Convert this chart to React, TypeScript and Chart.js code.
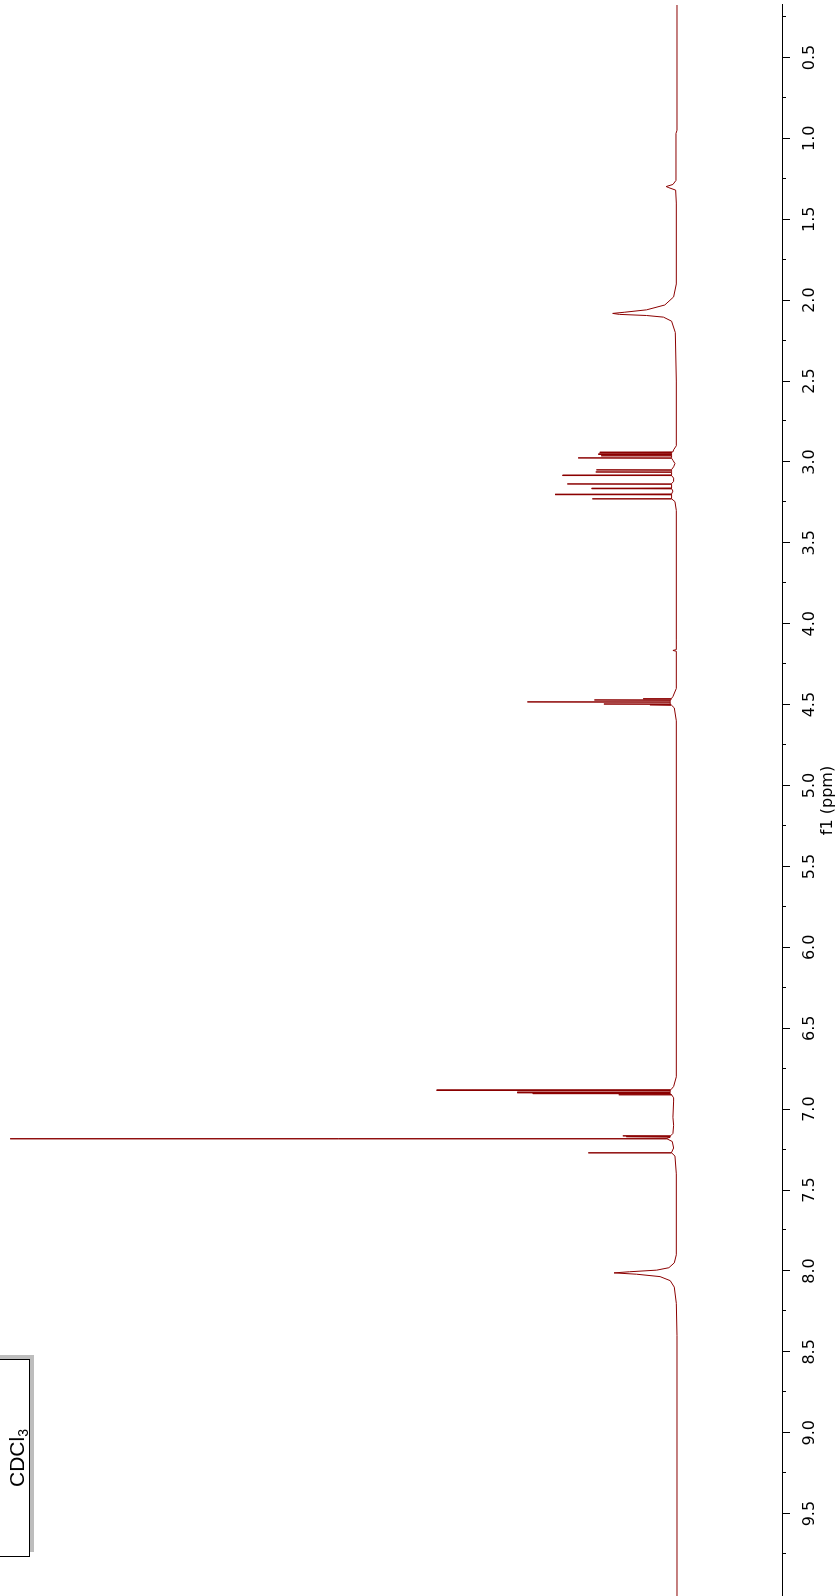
import React, { useEffect, useRef } from 'react';
import { Chart, registerables } from 'chart.js';

Chart.register(...registerables);

// Chemical shift (ppm) and relative intensity (% of tallest usable height)
const shiftPpm: number[] = [
  0.176, 0.95, 0.97, 1.26, 1.285, 1.298, 1.305, 1.32, 1.4,
  1.9, 1.98, 2.03, 2.06, 2.075, 2.082, 2.088, 2.095, 2.105, 2.13, 2.2, 2.5,
  2.9, 2.925,
  2.938, 2.94, 2.942, 2.949, 2.951, 2.953, 2.959, 2.961, 2.963, 2.973, 2.975, 2.977,
  2.99, 3.01, 3.03,
  3.047, 3.049, 3.051, 3.06, 3.062, 3.064, 3.08, 3.082, 3.084,
  3.1, 3.12,
  3.134, 3.136, 3.138, 3.161, 3.163, 3.165, 3.18,
  3.198, 3.2, 3.202, 3.225, 3.227, 3.229, 3.245, 3.3,
  4.1, 4.16, 4.165, 4.17, 4.4, 4.45,
  4.461, 4.463, 4.465, 4.469, 4.471, 4.473, 4.481, 4.483, 4.485,
  4.494, 4.496, 4.498, 4.5, 4.502, 4.504, 4.52, 4.6,
  6.8, 6.86,
  6.88, 6.882, 6.884, 6.893, 6.895, 6.897, 6.9, 6.902, 6.904, 6.908, 6.91, 6.912,
  6.93, 6.95, 7.05, 7.1, 7.15,
  7.163, 7.165, 7.167, 7.169, 7.171, 7.173,
  7.18, 7.182, 7.184, 7.2, 7.24,
  7.267, 7.269, 7.271, 7.29, 7.4,
  7.9, 7.95, 7.98, 7.995, 8.005, 8.012, 8.02, 8.035, 8.06, 8.1, 8.2, 8.4,
  10.009,
];

const intensityPct: number[] = [
  0, 0, 0.15, 0.15, 0.6, 1.6, 1.2, 0.2, 0.1,
  0.1, 0.5, 1.8, 4.5, 7.8, 9.5, 8.5, 4.5, 2.0, 0.8, 0.25, 0.1,
  0.1, 0.5,
  0.6, 11.4, 0.8, 0.8, 11.6, 0.8, 0.8, 11.2, 0.8, 0.8, 14.6, 0.8,
  0.6, 0.3, 0.5,
  0.8, 11.9, 0.8, 0.8, 12.0, 0.8, 0.8, 16.9, 0.8,
  0.5, 0.5,
  0.8, 16.2, 0.8, 0.8, 12.6, 0.8, 0.6,
  0.8, 18.0, 0.8, 0.8, 12.5, 0.8, 0.3, 0.1,
  0.1, 0.1, 0.6, 0.1, 0.1, 0.6,
  0.8, 5.0, 0.9, 0.9, 12.2, 1.0, 1.0, 22.1, 1.0,
  1.0, 10.8, 0.9, 0.9, 4.0, 0.8, 0.4, 0.1,
  0.1, 0.5,
  0.9, 35.5, 1.0, 1.0, 23.6, 1.0, 1.0, 21.3, 1.0, 1.0, 8.6, 0.8,
  0.5, 0.5, 0.6, 0.5, 0.6,
  0.9, 8.0, 1.0, 1.0, 7.5, 1.0,
  1.5, 98.5, 1.5, 0.7, 0.5,
  0.8, 13.1, 0.8, 0.3, 0.1,
  0.1, 0.4, 1.2, 3.0, 7.0, 9.3, 6.0, 2.5, 1.0, 0.4, 0.1, 0,
  0,
];

const majorTicks: number[] = [0.5, 1.0, 1.5, 2.0, 2.5, 3.0, 3.5, 4.0, 4.5, 5.0, 5.5, 6.0, 6.5, 7.0, 7.5, 8.0, 8.5, 9.0, 9.5];
const minorTicks: number[] = [0.25, 0.75, 1.25, 1.75, 2.25, 2.75, 3.25, 3.75, 4.25, 4.75, 5.25, 5.75, 6.25, 6.75, 7.25, 7.75, 8.25, 8.75, 9.25, 9.75];

const PPM_MIN = 0.176;
const PPM_MAX = 10.009;
const INT_MIN = -15.51;
const INT_MAX = 100;
const AXIS_TITLE = 'f1 (ppm)';
const SOLVENT_MAIN = 'CDCl';
const SOLVENT_SUB = '3';

const W = 1596;
const H = 838;

export default function App() {
  const ref = useRef<HTMLCanvasElement>(null);

  useEffect(() => {
    const canvas = ref.current;
    if (!canvas) return;
    const points = shiftPpm.map((p, i) => ({ x: p, y: intensityPct[i] }));

    const minorTickPlugin = {
      id: 'minorTicks',
      afterDraw(chart: any) {
        const xs = chart.scales.x;
        const ctx = chart.ctx;
        const y0 = chart.chartArea.bottom;
        ctx.save();
        ctx.strokeStyle = '#000';
        ctx.lineWidth = 1;
        ctx.beginPath();
        for (const v of minorTicks) {
          const px = Math.round(xs.getPixelForValue(v)) + 0.5;
          ctx.moveTo(px, y0);
          ctx.lineTo(px, y0 + 4);
        }
        ctx.stroke();
        ctx.restore();
      },
    };

    const solventBoxPlugin = {
      id: 'solventBox',
      afterDraw(chart: any) {
        const ctx = chart.ctx;
        ctx.save();
        ctx.fillStyle = '#bdbdbd';
        ctx.fillRect(44, -5, 197, 39);
        ctx.fillStyle = '#ffffff';
        ctx.fillRect(39.5, -5, 197, 34.5);
        ctx.strokeStyle = '#000';
        ctx.lineWidth = 1;
        ctx.strokeRect(39.5, -5.5, 197, 35);
        ctx.fillStyle = '#000';
        ctx.textBaseline = 'alphabetic';
        ctx.textAlign = 'left';
        const mainFont = '21px "Liberation Sans", Arial, sans-serif';
        const subFont = '14px "Liberation Sans", Arial, sans-serif';
        ctx.font = mainFont;
        const w1 = ctx.measureText(SOLVENT_MAIN).width;
        ctx.font = subFont;
        const w2 = ctx.measureText(SOLVENT_SUB).width;
        const start = 138 - (w1 + w2) / 2;
        ctx.font = mainFont;
        ctx.fillText(SOLVENT_MAIN, start, 24);
        ctx.font = subFont;
        ctx.fillText(SOLVENT_SUB, start + w1, 28);
        ctx.restore();
      },
    };

    const chart = new Chart(canvas, {
      type: 'line',
      data: {
        datasets: [
          {
            data: points,
            borderColor: '#8b0000',
            borderWidth: 1,
            pointRadius: 0,
            tension: 0,
            fill: false,
          },
        ],
      },
      options: {
        animation: false,
        responsive: false,
        devicePixelRatio: 1,
        layout: { padding: { left: 0, right: 5, top: 0, bottom: 0 } },
        plugins: { legend: { display: false }, tooltip: { enabled: false } },
        scales: {
          x: {
            type: 'linear',
            reverse: true,
            min: PPM_MIN,
            max: PPM_MAX,
            position: 'bottom',
            afterBuildTicks: (s: any) => {
              s.ticks = majorTicks.map((v) => ({ value: v }));
            },
            afterFit: (s: any) => {
              s.height = 56;
            },
            ticks: {
              autoSkip: false,
              maxRotation: 0,
              minRotation: 0,
              padding: 10,
              color: '#000',
              font: { family: 'DejaVu Sans', size: 16 },
              callback: (v: any) => Number(v).toFixed(1),
            },
            grid: {
              drawOnChartArea: false,
              drawTicks: true,
              tickLength: 8,
              color: '#000',
              lineWidth: 1,
            },
            border: { display: true, color: '#000', width: 1 },
            title: {
              display: true,
              text: AXIS_TITLE,
              color: '#000',
              font: { family: 'DejaVu Sans', size: 16 },
              padding: { top: 0, bottom: 1 },
            },
          },
          y: { type: 'linear', display: false, min: INT_MIN, max: INT_MAX },
        },
      },
      plugins: [minorTickPlugin, solventBoxPlugin],
    } as any);
    return () => chart.destroy();
  }, []);

  return (
    <div style={{ position: 'fixed', left: 0, top: 0, width: H, height: W, overflow: 'hidden', background: '#fff' }}>
      <div
        style={{
          position: 'absolute',
          left: 0,
          top: 0,
          width: W,
          height: H,
          transform: `translateY(${W}px) rotate(-90deg)`,
          transformOrigin: '0 0',
        }}
      >
        <canvas ref={ref} width={W} height={H} style={{ display: 'block', width: W, height: H }} />
      </div>
    </div>
  );
}
